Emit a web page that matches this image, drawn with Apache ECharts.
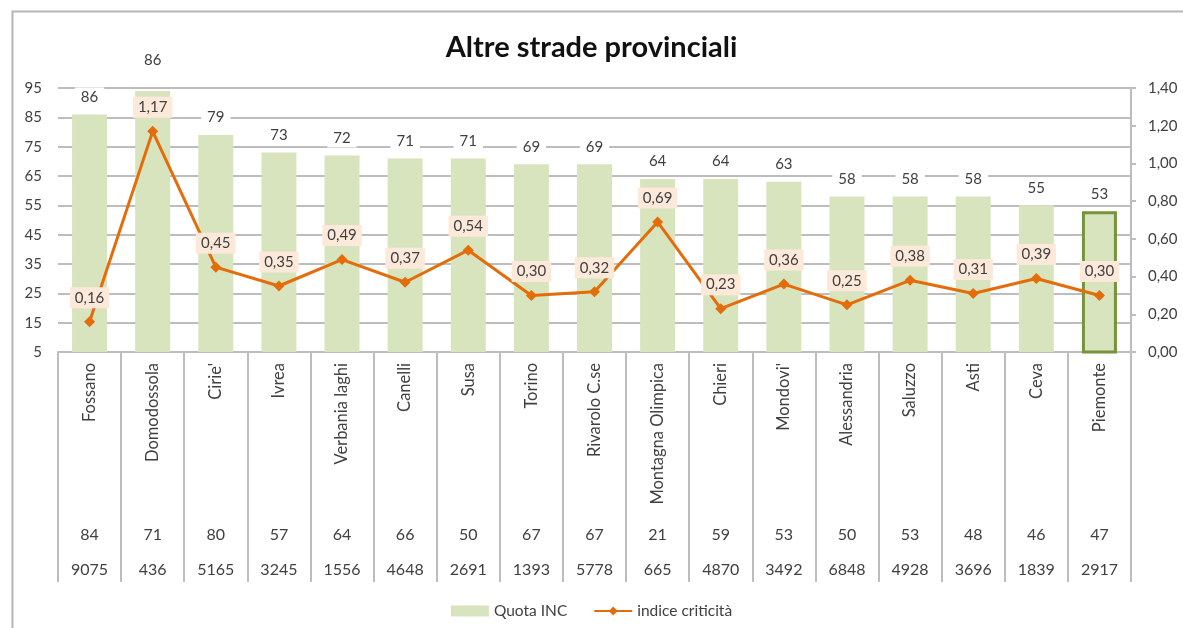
<!DOCTYPE html>
<html>
<head>
<meta charset="utf-8">
<script src="https://cdn.jsdelivr.net/npm/echarts@6/dist/echarts.min.js"></script>
<style>
  html, body { margin: 0; padding: 0; background: #fff; }
  #chart { width: 1183px; height: 628px; }
</style>
</head>
<body>
<div id="chart"></div>
<script>
const categories = ['Fossano', 'Domodossola', "Cirie'", 'Ivrea', 'Verbania laghi', 'Canelli', 'Susa', 'Torino', 'Rivarolo C.se', 'Montagna Olimpica', 'Chieri', "Mondovi'", 'Alessandria', 'Saluzzo', 'Asti', 'Ceva', 'Piemonte'];
// bar heights as drawn, and the printed labels (Domodossola bar is drawn taller than its label)
const quota = [86, 94, 79, 73, 72, 71, 71, 69, 69, 64, 64, 63, 58, 58, 58, 55, 53];
const quotaLabels = [86, 86, 79, 73, 72, 71, 71, 69, 69, 64, 64, 63, 58, 58, 58, 55, 53];
const indice = [0.16, 1.17, 0.45, 0.35, 0.49, 0.37, 0.54, 0.30, 0.32, 0.69, 0.23, 0.36, 0.25, 0.38, 0.31, 0.39, 0.30];
const rowA = [84, 71, 80, 57, 64, 66, 50, 67, 67, 21, 59, 53, 50, 53, 48, 46, 47];
const rowB = [9075, 436, 5165, 3245, 1556, 4648, 2691, 1393, 5778, 665, 4870, 3492, 6848, 4928, 3696, 1839, 2917];
const leftTicks = [5, 15, 25, 35, 45, 55, 65, 75, 85, 95];

const FONT = 'Lato';
const TXT = '#404040';
const GRID = '#bdbdbd';
const comma = v => v.toFixed(2).replace('.', ',');

const barData = quota.map((v, i) => {
  const item = { value: v };
  if (categories[i] === 'Piemonte') item.itemStyle = { borderColor: '#77933C', borderWidth: 3 };
  if (quotaLabels[i] !== v) item.label = { offset: [0, -13] };
  return item;
});

const chart = echarts.init(document.getElementById('chart'));
chart.setOption({
  animation: false,
  textStyle: { fontFamily: FONT },
  title: {
    text: 'Altre strade provinciali',
    left: 'center', top: 28,
    textStyle: { fontFamily: FONT, fontSize: 29, fontWeight: 'bold', color: '#111' }
  },
  graphic: [{
    type: 'rect', z: -10,
    shape: { x: 12.5, y: 11.5, width: 1220, height: 700 },
    style: { fill: null, stroke: '#b5b5b5', lineWidth: 2 }
  }],
  legend: {
    top: 598, left: 'center',
    itemWidth: 38, itemHeight: 11, itemGap: 26,
    textStyle: { fontFamily: FONT, fontSize: 15.5, color: TXT },
    data: [{ name: 'Quota INC', icon: 'rect' }, { name: 'indice criticità' }]
  },
  grid: { left: 58, right: 52, top: 88, bottom: 276 },
  xAxis: [{
    type: 'category', data: categories,
    axisLine: { lineStyle: { color: GRID, width: 2 } },
    axisTick: { show: true, interval: 0, length: 230, lineStyle: { color: GRID, width: 2 } },
    axisLabel: { interval: 0, rotate: 90, margin: 11, fontFamily: FONT, fontSize: 16.5, color: TXT }
  }, {
    type: 'category', data: rowA, position: 'bottom', offset: 175,
    axisLine: { show: false }, axisTick: { show: false },
    axisLabel: { interval: 0, margin: 0, fontFamily: FONT, fontSize: 16, color: TXT }
  }, {
    type: 'category', data: rowB, position: 'bottom', offset: 210,
    axisLine: { show: false }, axisTick: { show: false },
    axisLabel: { interval: 0, margin: 0, fontFamily: FONT, fontSize: 16, color: TXT }
  }],
  yAxis: [{
    type: 'value', min: 5, max: 95, position: 'left',
    axisLine: { show: false },
    axisTick: { show: false, customValues: leftTicks },
    axisLabel: { customValues: leftTicks, margin: 16, fontFamily: FONT, fontSize: 15, color: TXT },
    splitLine: { show: true, lineStyle: { color: GRID, width: 2 } }
  }, {
    type: 'value', min: 0, max: 1.4, interval: 0.2, position: 'right',
    axisLine: { show: true, lineStyle: { color: GRID, width: 2 } },
    axisTick: { show: true, length: 5, lineStyle: { color: GRID, width: 2 } },
    axisLabel: { margin: 17, fontFamily: FONT, fontSize: 15, color: TXT, formatter: comma },
    splitLine: { show: false }
  }],
  series: [{
    name: 'Quota INC', type: 'bar', xAxisIndex: 0, yAxisIndex: 0,
    data: barData, barWidth: 35,
    itemStyle: { color: '#D7E4BD' },
    label: {
      show: true, position: 'top', distance: 8,
      formatter: p => quotaLabels[p.dataIndex],
      backgroundColor: '#fff', padding: [2, 6],
      fontFamily: FONT, fontSize: 15, color: TXT
    }
  }, {
    name: 'indice criticità', type: 'line', xAxisIndex: 0, yAxisIndex: 1,
    data: indice,
    symbol: 'diamond', symbolSize: 11,
    itemStyle: { color: '#E46C0A' },
    lineStyle: { color: '#E46C0A', width: 3 },
    label: {
      show: true, position: 'top', distance: 8,
      formatter: p => comma(p.value),
      backgroundColor: '#FDE9D9', padding: [3, 5],
      fontFamily: FONT, fontSize: 15, color: TXT
    }
  }]
});
</script>
</body>
</html>
